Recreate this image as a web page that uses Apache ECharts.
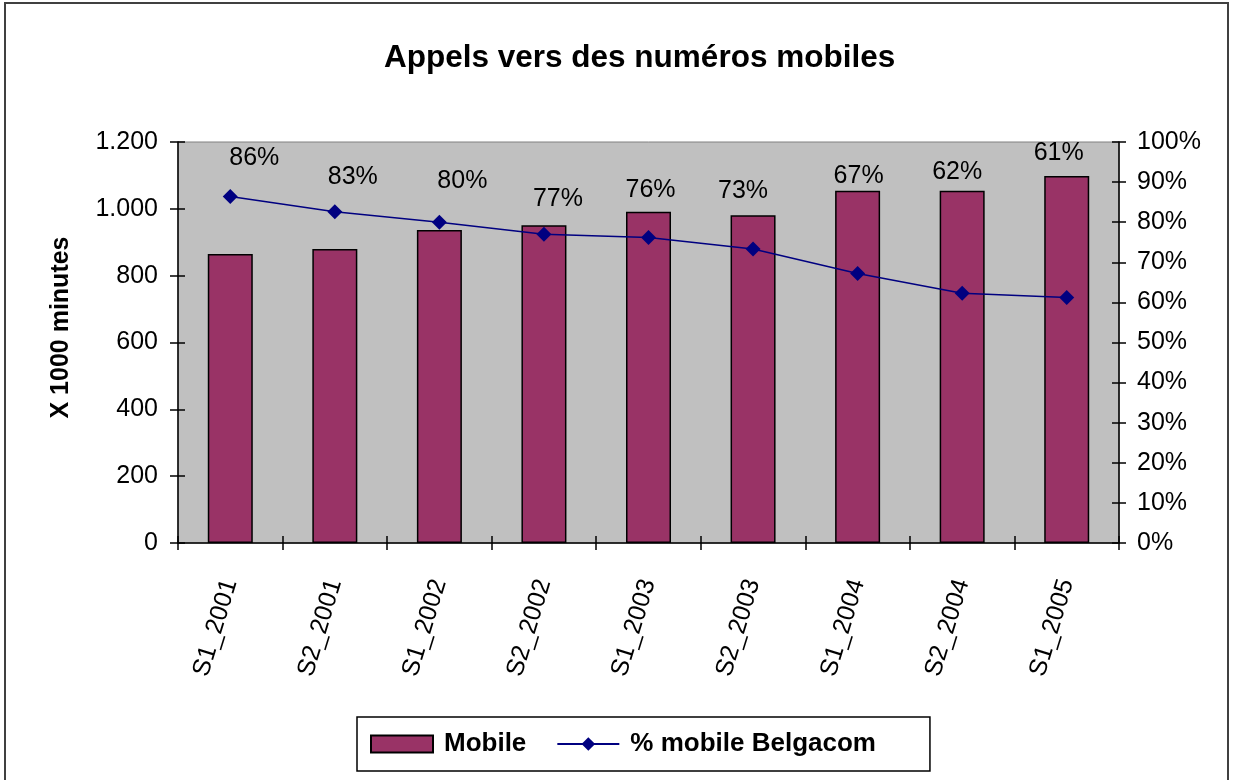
<!DOCTYPE html>
<html>
<head>
<meta charset="utf-8">
<script src="https://cdn.jsdelivr.net/npm/echarts@6/dist/echarts.min.js"></script>
<style>
  html, body { margin: 0; padding: 0; background: #fff; }
  #chart { width: 1233px; height: 780px; }
</style>
</head>
<body>
<div id="chart"></div>
<script>
const chartTitle = 'Appels vers des numéros mobiles';
const categories = ['S1_2001', 'S2_2001', 'S1_2002', 'S2_2002', 'S1_2003', 'S2_2003', 'S1_2004', 'S2_2004', 'S1_2005'];
const mobileMinutes = [865, 880, 937, 951, 991, 981, 1054, 1054, 1098];
const belgacomShare = [86.4, 82.6, 80.0, 77.0, 76.2, 73.3, 67.2, 62.3, 61.2];
const seriesNames = ['Mobile', '% mobile Belgacom'];
const leftAxisName = 'X 1000 minutes';

const FONT = '"Liberation Sans", Arial, sans-serif';

// label nudges (layout only), in px relative to each marker
const labelNudges = [[24, -38], [18, -35], [23, -41], [14, -35], [2, -47], [-10, -58], [1, -97], [-5, -121], [-8, -144]];

const chart = echarts.init(document.getElementById('chart'), null, { renderer: 'canvas' });

const fmtThousands = v => String(v).replace(/\B(?=(\d{3})+(?!\d))/g, '.');

const option = {
  backgroundColor: '#ffffff',
  animation: false,
  textStyle: { fontFamily: FONT, color: '#000' },
  title: {
    text: chartTitle,
    left: 379,
    top: 37,
    textStyle: { fontFamily: FONT, fontSize: 31.5, fontWeight: 'bold', color: '#000' }
  },
  graphic: [{
    type: 'rect',
    shape: { x: 5, y: 3, width: 1223, height: 800 },
    style: { fill: 'none', stroke: '#404040', lineWidth: 2 },
    silent: true
  }],
  legend: {
    data: [
      { name: seriesNames[0], icon: 'rect' },
      { name: seriesNames[1] }
    ],
    left: 357,
    top: 717,
    orient: 'horizontal',
    padding: [14, 54, 14, 13],
    borderColor: '#000',
    borderWidth: 1.5,
    itemWidth: 62,
    itemHeight: 17,
    itemGap: 30,
    textStyle: { fontFamily: FONT, fontSize: 26, fontWeight: 'bold', color: '#000', padding: [0, 0, 0, 6] }
  },
  grid: {
    left: 178, right: 114, top: 142, bottom: 237,
    show: true,
    backgroundColor: '#C0C0C0',
    borderColor: '#808080',
    borderWidth: 1
  },
  xAxis: [{
    type: 'category',
    data: categories,
    position: 'bottom',
    axisLine: { show: true, lineStyle: { color: '#000', width: 1.5 } },
    axisTick: { show: true, inside: false, length: 7, lineStyle: { color: '#000', width: 1.5 } },
    axisLabel: { rotate: 73, margin: 37, fontFamily: FONT, fontSize: 25, color: '#000' },
    splitLine: { show: false }
  }, {
    type: 'category',
    data: categories,
    position: 'bottom',
    axisLine: { show: false },
    axisTick: { show: true, inside: true, length: 7, lineStyle: { color: '#000', width: 1.5 } },
    axisLabel: { show: false },
    splitLine: { show: false }
  }],
  yAxis: [{
    type: 'value',
    position: 'left',
    min: 0, max: 1200, interval: 200,
    name: leftAxisName,
    nameLocation: 'middle',
    nameGap: 104,
    nameRotate: 90,
    nameTextStyle: { fontFamily: FONT, fontSize: 25, fontWeight: 'bold', color: '#000', padding: [0, 0, 0, 30] },
    axisLine: { show: true, lineStyle: { color: '#000', width: 1.5 } },
    axisTick: { show: true, inside: false, length: 8, lineStyle: { color: '#000', width: 1.5 } },
    axisLabel: { margin: 20, fontFamily: FONT, fontSize: 25, color: '#000', formatter: fmtThousands },
    splitLine: { show: false }
  }, {
    type: 'value',
    position: 'right',
    min: 0, max: 100, interval: 10,
    axisLine: { show: true, lineStyle: { color: '#000', width: 1.5 } },
    axisTick: { show: true, inside: false, length: 7, lineStyle: { color: '#000', width: 1.5 } },
    axisLabel: { margin: 18, fontFamily: FONT, fontSize: 25, color: '#000', formatter: '{value}%' },
    splitLine: { show: false }
  }, {
    type: 'value',
    position: 'left',
    min: 0, max: 1200, interval: 200,
    axisLine: { show: false },
    axisTick: { show: true, inside: true, length: 7, lineStyle: { color: '#000', width: 1.5 } },
    axisLabel: { show: false },
    splitLine: { show: false }
  }, {
    type: 'value',
    position: 'right',
    min: 0, max: 100, interval: 10,
    axisLine: { show: false },
    axisTick: { show: true, inside: true, length: 7, lineStyle: { color: '#000', width: 1.5 } },
    axisLabel: { show: false },
    splitLine: { show: false }
  }],
  series: [{
    name: seriesNames[0],
    type: 'bar',
    xAxisIndex: 0,
    yAxisIndex: 0,
    data: mobileMinutes,
    barWidth: 45,
    itemStyle: { color: '#993366', borderColor: '#000', borderWidth: 1.5 }
  }, {
    name: seriesNames[1],
    type: 'line',
    xAxisIndex: 0,
    yAxisIndex: 1,
    data: belgacomShare.map((v, i) => ({
      value: v,
      label: { offset: labelNudges[i] }
    })),
    symbol: 'diamond',
    symbolSize: 15,
    lineStyle: { color: '#000080', width: 1.5 },
    itemStyle: { color: '#000080' },
    label: {
      show: true,
      position: 'inside',
      fontFamily: FONT,
      fontSize: 25,
      color: '#000',
      formatter: p => Math.round(p.value) + '%'
    },
    z: 5
  }]
};

chart.setOption(option);
</script>
</body>
</html>
